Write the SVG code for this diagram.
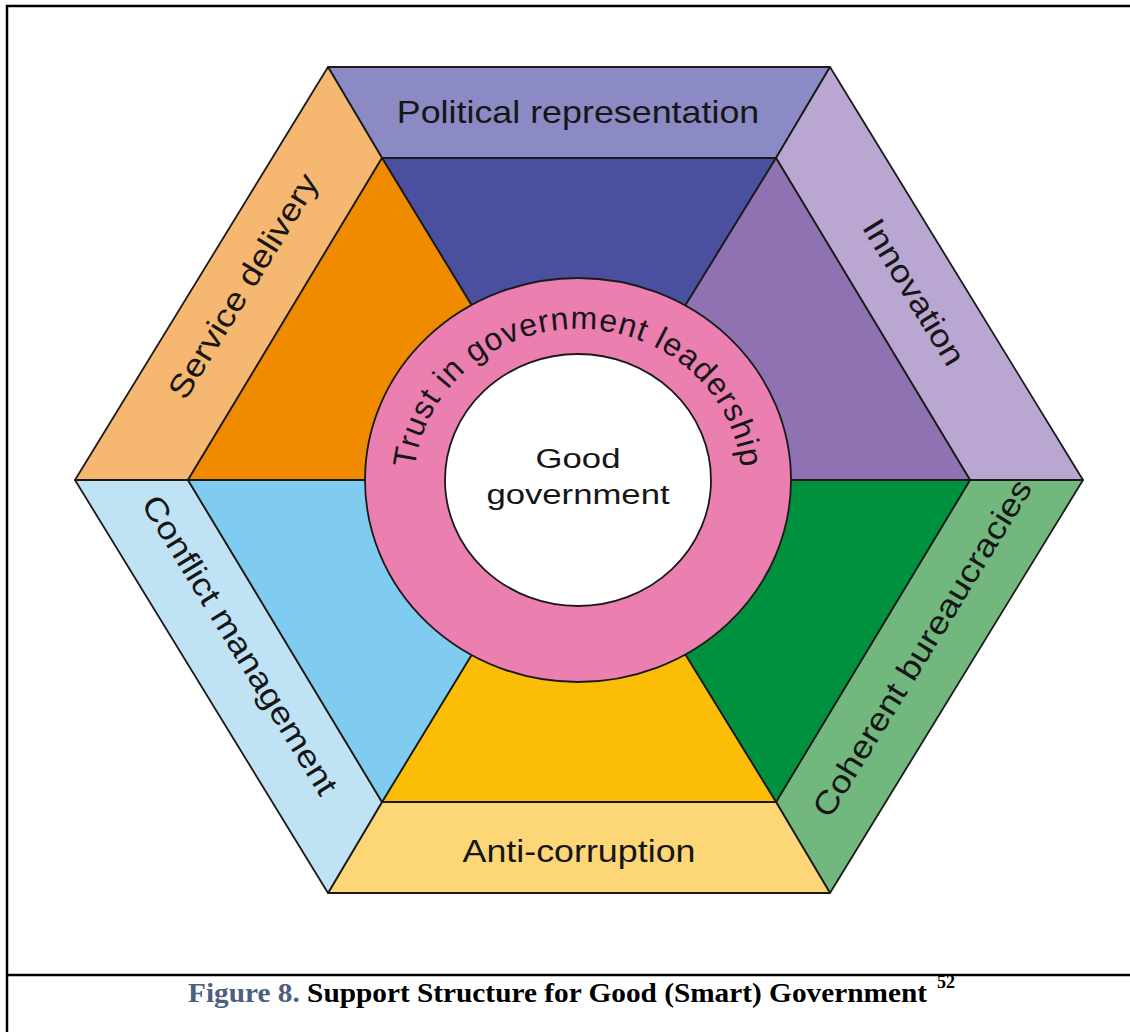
<svg xmlns="http://www.w3.org/2000/svg" width="1130" height="1032" viewBox="0 0 1130 1032">
<style>
.edge{stroke:#1a1a1a;stroke-width:1.8;stroke-linejoin:round}
.lbl{font-family:"Liberation Sans",Arial,Helvetica,sans-serif;font-size:32px;fill:#161616;text-anchor:middle}
.ctr{font-family:"Liberation Sans",Arial,Helvetica,sans-serif;font-size:28px;fill:#161616;text-anchor:middle}
.ring{font-family:"Liberation Sans",Arial,Helvetica,sans-serif;font-size:32px;fill:#161616;letter-spacing:1px}
.cap{font-family:"Liberation Serif","Times New Roman",serif;font-weight:bold;fill:#000}
.frame{stroke:#000;stroke-width:2.5;fill:none}
</style>
<defs>
<path id="arc" d="M 414,484 A 164,155 0 0 1 742,484"/>
</defs>
<rect width="1130" height="1032" fill="#fff"/>
<g id="frame">
<path class="frame" d="M7,1032 V6 H1130"/>
<line class="frame" x1="6" y1="975" x2="1130" y2="975"/>
</g>
<g id="bands">
<g id="band-political"><polygon class="edge" fill="#8c8ac4" points="328,67 830,67 776,158 382,158"/></g>
<g id="band-innovation"><polygon class="edge" fill="#b9a7d1" points="830,67 1083,480 970,480 776,158"/></g>
<g id="band-coherent"><polygon class="edge" fill="#72b77d" points="1083,480 830,893 776,802 970,480"/></g>
<g id="band-anticorruption"><polygon class="edge" fill="#fdd677" points="830,893 328,893 382,802 776,802"/></g>
<g id="band-conflict"><polygon class="edge" fill="#bfe3f5" points="328,893 75,480 188,480 382,802"/></g>
<g id="band-service"><polygon class="edge" fill="#f6b870" points="75,480 328,67 382,158 188,480"/></g>
</g>
<g id="wedges">
<polygon class="edge" fill="#4a4f9f" points="382,158 776,158 578,480"/>
<polygon class="edge" fill="#8f72b1" points="776,158 970,480 578,480"/>
<polygon class="edge" fill="#00913e" points="970,480 776,802 578,480"/>
<polygon class="edge" fill="#fbbd06" points="776,802 382,802 578,480"/>
<polygon class="edge" fill="#80ccf1" points="382,802 188,480 578,480"/>
<polygon class="edge" fill="#f08b00" points="188,480 382,158 578,480"/>
</g>
<g id="trust-ring">
<ellipse class="edge" cx="578" cy="480" rx="213" ry="202" fill="#eb7fb0"/>
<text class="ring"><textPath href="#arc" startOffset="50%" text-anchor="middle">Trust in government leadership</textPath></text>
</g>
<g id="good-government">
<ellipse class="edge" cx="578" cy="480" rx="133" ry="126" fill="#fff"/>
<text class="ctr" transform="translate(578,468) scale(1.24,1)">Good</text>
<text class="ctr" transform="translate(578,504) scale(1.24,1)">government</text>
</g>
<g id="labels">
<text class="lbl" transform="translate(578,123) scale(1.12,1)">Political representation</text>
<text class="lbl" transform="translate(579,862) scale(1.12,1)">Anti-corruption</text>
<text class="lbl" transform="translate(243,286) rotate(-58.5) translate(0,11) scale(1.14,1)">Service delivery</text>
<text class="lbl" transform="translate(914,292) rotate(58.5) translate(0,11) scale(1.12,1)">Innovation</text>
<text class="lbl" transform="translate(240,645) rotate(58.5) translate(0,11) scale(1.14,1)">Conflict management</text>
<text class="lbl" transform="translate(922,648) rotate(-58.5) translate(0,11) scale(1.14,1)">Coherent bureaucracies</text>
</g>
<g id="caption">
<text class="cap" x="188" y="1002" font-size="28" textLength="739" lengthAdjust="spacingAndGlyphs"><tspan fill="#4c5f7c">Figure 8.</tspan> Support Structure for Good (Smart) Government</text>
<text class="cap" x="937" y="988" font-size="18">52</text>
</g>
</svg>
